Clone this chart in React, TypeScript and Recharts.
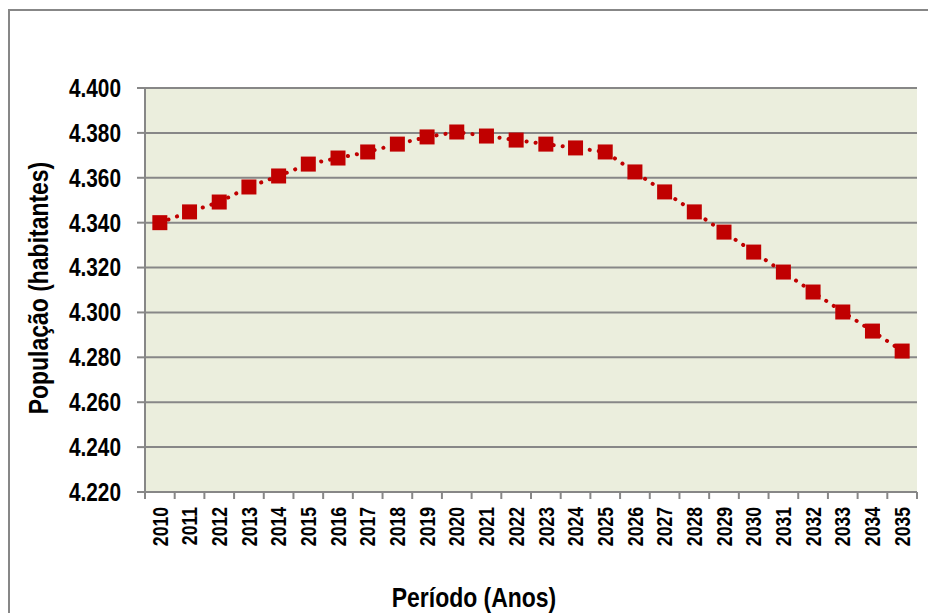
import React from 'react';
import { LineChart, Line, XAxis, YAxis, CartesianGrid } from 'recharts';

const years = [2010, 2011, 2012, 2013, 2014, 2015, 2016, 2017, 2018, 2019, 2020, 2021, 2022, 2023, 2024, 2025, 2026, 2027, 2028, 2029, 2030, 2031, 2032, 2033, 2034, 2035];
const population = [4.340, 4.3448, 4.3492, 4.3559, 4.3608, 4.3661, 4.3688, 4.3715, 4.3750, 4.3782, 4.3804, 4.3786, 4.3768, 4.3750, 4.3733, 4.3715, 4.3626, 4.3537, 4.3448, 4.3358, 4.3269, 4.3180, 4.3091, 4.3002, 4.2917, 4.2828];
const yTicks = [4.22, 4.24, 4.26, 4.28, 4.30, 4.32, 4.34, 4.36, 4.38, 4.40];
const xTitle = 'Período (Anos)';
const yTitle = 'População (habitantes)';

const data = years.map((y, i) => ({ year: y, pop: population[i] }));
const xTicks: number[] = [];
years.forEach((y) => { xTicks.push(y - 0.5); xTicks.push(y); });
xTicks.push(years[years.length - 1] + 0.5);

const FONT = '"Liberation Sans", Arial, sans-serif';
const SQ = 0.8;
const GRAY = '#878787';
const RED = '#C00000';

const XTick = (props: any) => {
  const { x, y, payload } = props;
  const v = payload.value;
  if (Number.isInteger(v)) {
    return (
      <text
        transform={`translate(${x},${y + 15}) rotate(-90) scale(${SQ},1)`}
        textAnchor="end"
        dominantBaseline="central"
        fill="#000"
        fontSize={22}
        fontWeight="bold"
        fontFamily={FONT}
      >
        {v}
      </text>
    );
  }
  return <line x1={x} x2={x} y1={y} y2={y + 7} stroke={GRAY} strokeWidth={2} />;
};

const YTick = (props: any) => {
  const { x, y, payload } = props;
  return (
    <text
      transform={`translate(${x},${y}) scale(${SQ},1)`}
      textAnchor="end"
      dominantBaseline="central"
      fill="#000"
      fontSize={26}
      fontWeight="bold"
      fontFamily={FONT}
    >
      {Number(payload.value).toFixed(3)}
    </text>
  );
};

const XTitle = (props: any) => {
  const vb = props.viewBox || {};
  const cx = vb.x + vb.width / 2 - 57;
  const by = vb.y + vb.height - 6;
  return (
    <text transform={`translate(${cx},${by}) scale(0.82,1)`} textAnchor="middle" fill="#000" fontSize={28} fontWeight="bold" fontFamily={FONT}>
      {xTitle}
    </text>
  );
};

const YTitle = (props: any) => {
  const vb = props.viewBox || {};
  const bx = vb.x + 48;
  const cy = vb.y + vb.height / 2 - 2;
  return (
    <text transform={`translate(${bx},${cy}) rotate(-90) scale(0.82,1)`} textAnchor="middle" fill="#000" fontSize={28} fontWeight="bold" fontFamily={FONT}>
      {yTitle}
    </text>
  );
};

const SquareDot = (props: any) => {
  const { cx, cy } = props;
  if (cx == null || cy == null) return null;
  return <rect x={cx - 7.5} y={cy - 7.5} width={15} height={15} fill={RED} />;
};

export default function App() {
  return (
    <div style={{ position: 'fixed', left: 0, top: 0, width: 928, height: 613, background: '#fff', overflow: 'hidden' }}>
      <div style={{ position: 'absolute', left: 0, top: 0 }}>
        <LineChart width={928} height={613} data={data} margin={{ top: 88, right: 11, bottom: 0, left: 0 }}>
          <CartesianGrid horizontal vertical={false} stroke={GRAY} strokeWidth={2} fill="#EBEEDD" fillOpacity={1} />
          <XAxis
            dataKey="year"
            type="number"
            domain={[2009.5, 2035.5]}
            ticks={xTicks}
            interval={0}
            height={121}
            tickLine={false}
            tickSize={0}
            tickMargin={0}
            axisLine={{ stroke: GRAY, strokeWidth: 2 }}
            tick={<XTick />}
            label={<XTitle />}
          />
          <YAxis
            domain={[4.22, 4.40]}
            ticks={yTicks}
            interval={0}
            width={145}
            tickSize={8}
            tickMargin={16}
            tickLine={{ stroke: GRAY, strokeWidth: 2 }}
            axisLine={{ stroke: GRAY, strokeWidth: 2 }}
            tick={<YTick />}
            label={<YTitle />}
          />
          <Line
            type="linear"
            dataKey="pop"
            stroke={RED}
            strokeWidth={4}
            strokeDasharray="0.1 9"
            strokeLinecap="round"
            dot={<SquareDot />}
            activeDot={false}
            isAnimationActive={false}
          />
        </LineChart>
      </div>
      <svg width={928} height={613} style={{ position: 'absolute', left: 0, top: 0, pointerEvents: 'none' }}>
        <rect x={9} y={10} width={1000} height={1000} fill="none" stroke={GRAY} strokeWidth={2} />
      </svg>
    </div>
  );
}
